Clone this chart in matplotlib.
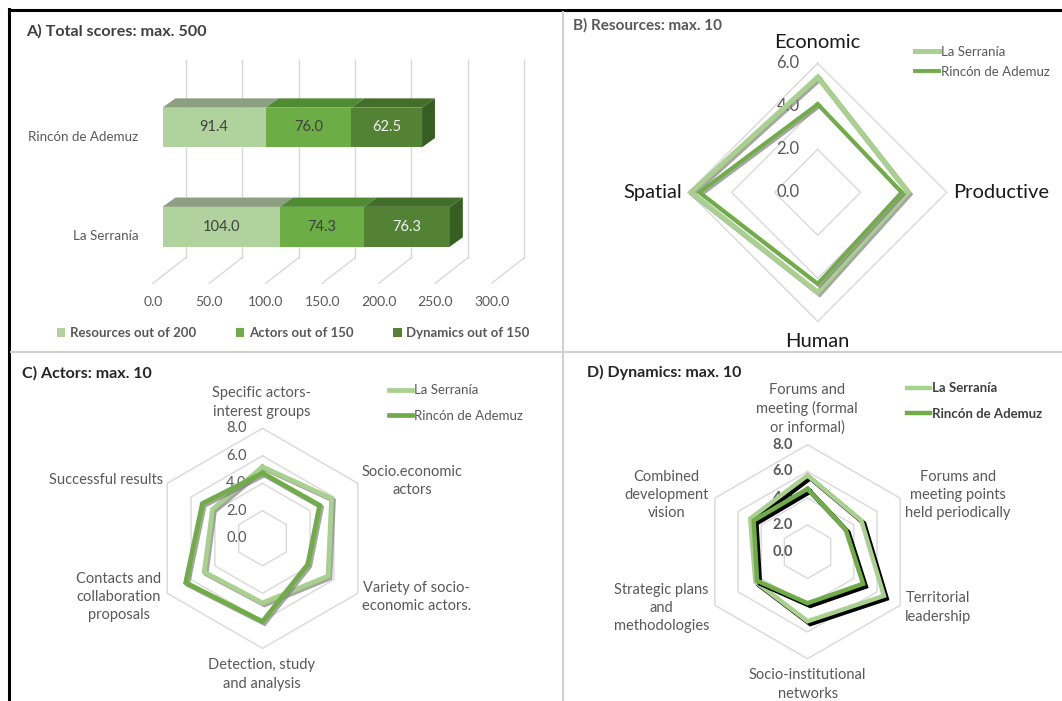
import numpy as np
import matplotlib
matplotlib.use('Agg')
import matplotlib.pyplot as plt
from matplotlib.patches import Polygon, Patch
from matplotlib.lines import Line2D
import matplotlib.patheffects as pe

plt.rcParams['font.family'] = ['Lato', 'DejaVu Sans']

W, H = 1062, 701

# ---------------- data ----------------
regions = ['La Serranía', 'Rincón de Ademuz']
score_groups = ['Resources out of 200', 'Actors out of 150', 'Dynamics out of 150']
resources_total = [104.0, 91.4]
actors_total = [74.3, 76.0]
dynamics_total = [76.3, 62.5]
total_ticks = [0, 50, 100, 150, 200, 250, 300]

resource_axes = ['Economic', 'Productive', 'Human', 'Spatial']
resources_serrania = [5.35, 4.2, 4.65, 5.9]
resources_ademuz = [4.1, 3.9, 4.25, 5.5]
resource_ticks = [0, 2, 4, 6]

actor_axes = ['Specific actors-\ninterest groups', 'Socio.economic\nactors',
              'Variety of socio-\neconomic actors.', 'Detection, study\nand analysis',
              'Contacts and\ncollaboration\nproposals', 'Successful results']
actors_serrania = [5.2, 5.8, 5.5, 4.7, 4.9, 4.2]
actors_ademuz = [4.75, 4.8, 3.8, 6.05, 6.45, 5.05]
actor_ticks = [0, 2, 4, 6, 8]

dynamic_axes = ['Forums and\nmeeting (formal\nor informal)', 'Forums and\nmeeting points\nheld periodically',
                'Territorial\nleadership', 'Socio-institutional\nnetworks',
                'Strategic plans\nand\nmethodologies', 'Combined\ndevelopment\nvision']
dynamics_serrania = [5.7, 4.65, 6.6, 5.2, 4.5, 4.95]
dynamics_ademuz = [4.7, 3.3, 4.8, 3.85, 4.35, 4.65]
dynamic_ticks = [0, 2, 4, 6, 8]

# ---------------- styles ----------------
FRONT = ['#B0D29C', '#6DAD45', '#548235']
TOP = ['#8C9F80', '#4E8B31', '#426E2A']
SIDE = '#375E22'
VALUE_COLORS = ['#404040', '#404040', '#F2F2F2']
LIGHT = '#A9D18E'
GREEN = '#70AD47'
GRAY = '#595959'
GRID = '#D9D9D9'


def fx(px):
    return px / W


def fy(py):
    return 1 - py / H


def px_axes(fig, left, top, width, height, **kw):
    return fig.add_axes([left / W, 1 - (top + height) / H, width / W, height / H], **kw)


def draw_frame(fig):
    fig.add_artist(Line2D([fx(9), fx(W)], [fy(10), fy(10)], color='black', lw=2.2))
    fig.add_artist(Line2D([fx(9.3), fx(9.3)], [fy(9), fy(H)], color='black', lw=2.2))
    fig.add_artist(Line2D([fx(563), fx(563)], [fy(12), fy(H)], color='#D0D0D0', lw=1.4))
    fig.add_artist(Line2D([fx(11), fx(W)], [fy(352), fy(352)], color='#D0D0D0', lw=1.4))


def draw_totals(fig):
    ax = px_axes(fig, 12, 12, 550, 339)
    x0_px, unit_px = 162.5, 1.129
    y0_px, row_px = 226.7, 99.2
    ax.set_xlim((12 - x0_px) / unit_px, (562 - x0_px) / unit_px)
    ax.set_ylim((y0_px - 351) / row_px, (y0_px - 12) / row_px)
    ax.axis('off')

    back_dx = 23.2 / unit_px
    front_dx = -9.6 / unit_px
    wall_top = (y0_px - 60) / row_px
    floor_back = (y0_px - 257.7) / row_px
    floor_front = (y0_px - 283.3) / row_px
    label_y = (y0_px - 301.7) / row_px
    for t in total_ticks:
        ax.plot([t + back_dx, t + back_dx], [floor_back, wall_top], color=GRID, lw=1, zorder=1)
        ax.plot([t + back_dx, t + front_dx], [floor_back, floor_front], color=GRID, lw=1, zorder=1)
        ax.text(t + front_dx, label_y, f'{t:.1f}', ha='center', va='center',
                fontsize=10, color=GRAY)

    depth_x = 12.9 / unit_px
    depth_y = 9.3 / row_px
    half = 0.2
    rows = np.arange(len(regions))
    groups = [resources_total, actors_total, dynamics_total]
    for r in rows:
        left = 0.0
        for g, vals in enumerate(groups):
            v = vals[r]
            ax.barh(r, v, left=left, height=2 * half, color=FRONT[g], zorder=3)
            top = [(left, r + half), (left + v, r + half),
                   (left + v + depth_x, r + half + depth_y), (left + depth_x, r + half + depth_y)]
            ax.add_patch(Polygon(top, closed=True, facecolor=TOP[g], edgecolor='none', zorder=3))
            ax.text(left + v / 2, r, f'{v:.1f}', ha='center', va='center',
                    fontsize=10.5, color=VALUE_COLORS[g], zorder=4)
            left += v
        side = [(left, r - half), (left, r + half),
                (left + depth_x, r + half + depth_y), (left + depth_x, r - half + depth_y)]
        ax.add_patch(Polygon(side, closed=True, facecolor=SIDE, edgecolor='none', zorder=3))
        ax.text((138.6 - x0_px) / unit_px, r - 0.093, regions[r], ha='right', va='center',
                fontsize=9.6, color=GRAY)

    fig.text(fx(26.5), fy(31.7), 'A) Total scores: max. 500', fontsize=11.6, fontweight='bold',
             color='#404040', va='center')
    handles = [Patch(facecolor=FRONT[g], edgecolor='none') for g in range(3)]
    fig.legend(handles, score_groups, loc='center left', bbox_to_anchor=(fx(56.5), fy(333)),
               ncol=3, frameon=False, handlelength=0.65, handleheight=0.65,
               handletextpad=0.35, columnspacing=3.0, borderpad=0, borderaxespad=0,
               prop={'weight': 'bold', 'size': 9.5}, labelcolor=GRAY)


def draw_radar(fig, center, radius_px, axes_labels, series, colors, widths, ticks,
               tick_offset, tick_size, tick_weight, shadow):
    cx, cy = center
    ax = fig.add_axes([(cx - radius_px) / W, 1 - (cy + radius_px) / H,
                       2 * radius_px / W, 2 * radius_px / H], projection='polar')
    ax.set_theta_zero_location('N')
    ax.set_theta_direction(-1)
    ax.set_ylim(0, ticks[-1])
    ax.set_axis_off()
    n = len(axes_labels)
    theta = np.linspace(0, 2 * np.pi, n, endpoint=False)
    closed = np.append(theta, theta[0])
    for t in ticks[1:]:
        ax.plot(closed, [t] * (n + 1), color=GRID, lw=1.0, clip_on=False, zorder=1)
    for t in ticks:
        ax.annotate(f'{t:.1f}', xy=(0, t), xytext=(-tick_offset, 0), textcoords='offset points',
                    ha='right', va='center', fontsize=tick_size, color=GRAY,
                    fontweight=tick_weight, zorder=2)
    handles = []
    for vals, c, lw in zip(series, colors, widths):
        effects = [pe.SimpleLineShadow(offset=shadow[0], shadow_color=shadow[1], alpha=shadow[2]),
                   pe.Normal()]
        ax.plot(closed, np.append(vals, vals[0]), color=c, lw=lw, clip_on=False, zorder=3,
                solid_joinstyle='miter', path_effects=effects)
        handles.append(Line2D([], [], color=c, lw=lw))
    return ax, handles


def place_labels(fig, labels, positions, size, color):
    for lab, (x, y) in zip(labels, positions):
        fig.text(fx(x), fy(y), lab, ha='center', va='center', multialignment='center',
                 fontsize=size, color=color, linespacing=1.38)


def radar_legend(ax, fig, handles, x, y_mid, spacing, length, weight, color):
    ax.legend(handles, ['La Serranía', 'Rincón de Ademuz'], loc='center left',
              bbox_to_anchor=(fx(x), fy(y_mid)), bbox_transform=fig.transFigure,
              frameon=False, handlelength=length, handletextpad=0.15, labelspacing=spacing,
              borderpad=0, borderaxespad=0, prop={'size': 9.5, 'weight': weight},
              labelcolor=color)


fig = plt.figure(figsize=(W / 100, H / 100), dpi=100)
fig.patch.set_facecolor('white')

draw_totals(fig)

# B) resources
axb, hb = draw_radar(fig, (817.7, 192.3), 129, resource_axes,
                     [resources_serrania, resources_ademuz], [LIGHT, GREEN], [3.6, 2.8],
                     resource_ticks, 13, 12, 'normal', ((1.4, -1.4), '#7F7F7F', 0.7))
fig.text(fx(817.7), fy(42.7), resource_axes[0], ha='center', va='center', fontsize=14.5, color='#1A1A1A')
fig.text(fx(953), fy(192.3), resource_axes[1], ha='left', va='center', fontsize=14.5, color='#1A1A1A')
fig.text(fx(817.7), fy(341.7), resource_axes[2], ha='center', va='center', fontsize=14.5, color='#1A1A1A')
fig.text(fx(681.7), fy(192.3), resource_axes[3], ha='right', va='center', fontsize=14.5, color='#1A1A1A')
fig.text(fx(573.3), fy(25.7), 'B) Resources: max. 10', fontsize=11, fontweight='bold',
         color=GRAY, va='center')
radar_legend(axb, fig, hb, 915, 62, 0.6, 1.8, 'normal', GRAY)

# C) actors
axc, hc = draw_radar(fig, (262.5, 538.3), 110, actor_axes,
                     [actors_serrania, actors_ademuz], [LIGHT, GREEN], [3.4, 3.4],
                     actor_ticks, 11.5, 10.5, 'normal', ((1.4, -1.4), '#7F7F7F', 0.7))
place_labels(fig, actor_axes,
             [(261.4, 402.5), (412.5, 481), (416.8, 597), (261.8, 674.5), (119, 597), (106, 480)],
             10.5, GRAY)
fig.text(fx(22), fy(373), 'C) Actors: max. 10', fontsize=11.5, fontweight='bold',
         color='#262626', va='center')
radar_legend(axc, fig, hc, 388.6, 403, 1.0, 1.8, 'normal', GRAY)

# D) dynamics
axd, hd = draw_radar(fig, (807.5, 551.7), 107, dynamic_axes,
                     [dynamics_serrania, dynamics_ademuz], [LIGHT, GREEN], [3.2, 3.2],
                     dynamic_ticks, 10.5, 10.5, 'bold', ((2.0, -2.0), 'black', 1.0))
place_labels(fig, dynamic_axes,
             [(807, 409), (958, 495), (938, 607.5), (807.7, 684.5), (661.7, 608), (666.7, 495)],
             10.5, GRAY)
fig.text(fx(586.7), fy(372.3), 'D) Dynamics: max. 10', fontsize=11.5, fontweight='bold',
         color='#262626', va='center')
radar_legend(axd, fig, hd, 906.7, 401, 1.0, 1.8, 'bold', '#404040')

draw_frame(fig)

fig.savefig('out.png', dpi=100)
